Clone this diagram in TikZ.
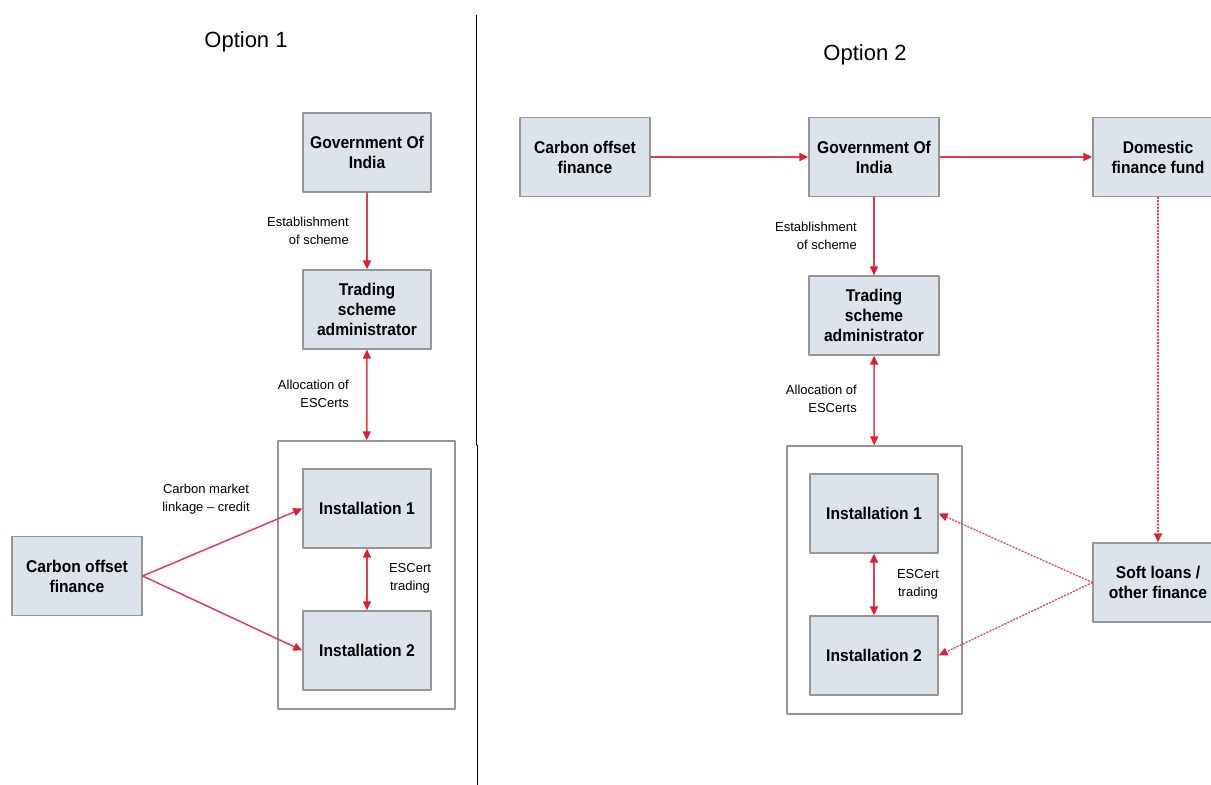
\documentclass[tikz,border=0pt]{standalone}
\usepackage{fontspec}
\setmainfont{Liberation Sans}
\newfontfamily\boxfont[FakeStretch=0.92]{Liberation Sans}
\usetikzlibrary{arrows.meta}
\definecolor{boxfill}{RGB}{220,227,235}
\definecolor{boxline}{RGB}{150,150,150}
\definecolor{linkred}{RGB}{228,60,82}
\definecolor{tipred}{RGB}{220,30,55}
\begin{document}
\begin{tikzpicture}[x=1pt, y=-1pt, line cap=round, line join=round,
		box/.style={draw=boxline, fill=boxfill, line width=1.3pt, minimum width=128pt, minimum height=79pt,
			inner sep=0pt, align=center, font=\boxfont\bfseries\fontsize{17}{20}\selectfont},
		frame/.style={draw=boxline, fill=white, line width=1.3pt, minimum width=177pt, minimum height=268pt, inner sep=0pt},
		lbl/.style={font=\fontsize{13}{18}\selectfont, inner sep=0pt},
		link/.style={draw=linkred, line width=1.5pt, -{Triangle[length=9pt,width=8pt,color=tipred]}},
		both/.style={link, {Triangle[length=9pt,width=8pt,color=tipred]}-{Triangle[length=9pt,width=8pt,color=tipred]}},
		loose/.style={link, line width=1.3pt, dotted}]
	
	\useasboundingbox (0,0) rectangle (1211,785);
	
	% Divider between the two options
	\draw[line width=1pt] (476,15) -- (476,445);
	\draw[line width=1pt] (477,445) -- (477,785);
	
	% Titles
	\node[font=\fontsize{22}{26}\selectfont] (title1) at (246,42) {Option 1};
	\node[font=\fontsize{22}{26}\selectfont] (title2) at (865,55) {Option 2};
	
	% Option 1 boxes
	\node[frame] (group1) at (366.5,575) {};
	\node[box] (gov1) at (367,152.5) {Government Of\\India};
	\node[box] (admin1) at (367,309.5) {Trading\\scheme\\administrator};
	\node[box] (instA1) at (367,508.5) {Installation 1};
	\node[box] (instB1) at (367,650.5) {Installation 2};
	\node[box, minimum width=130pt] (offset1) at (77,576) {Carbon offset\\finance};
	
	% Option 1 links
	\draw[link] (gov1) -- (admin1);
	\draw[both] (admin1) -- (group1);
	\draw[both] (instA1) -- (instB1);
	\draw[link] (offset1.east) -- (instA1.west);
	\draw[link] (offset1.east) -- (instB1.west);
	
	% Option 1 labels
	\node[lbl, anchor=east, align=right] (est1) at (349,231) {Establishment\\of scheme};
	\node[lbl, anchor=east, align=right] (alloc1) at (349,394) {Allocation of\\ESCerts};
	\node[lbl, align=center] (market1) at (206,499) {Carbon market\\linkage -- credit};
	\node[lbl, align=center] (trade1) at (410,578) {ESCert\\trading};
	
	% Option 2 boxes
	\node[frame, minimum width=175pt] (group2) at (874.5,580) {};
	\node[box, minimum width=130pt] (offset2) at (585,157) {Carbon offset\\finance};
	\node[box, minimum width=130pt] (gov2) at (874,157) {Government Of\\India};
	\node[box, minimum width=130pt] (fund2) at (1158,157) {Domestic\\finance fund};
	\node[box, minimum width=130pt] (admin2) at (874,315.5) {Trading\\scheme\\administrator};
	\node[box] (instA2) at (874,513.5) {Installation 1};
	\node[box] (instB2) at (874,655.5) {Installation 2};
	\node[box, minimum width=130pt] (soft2) at (1158,582.5) {Soft loans /\\other finance};
	
	% Option 2 links
	\draw[link] (offset2) -- (gov2);
	\draw[link] (gov2) -- (fund2);
	\draw[link] (gov2) -- (admin2);
	\draw[both] (admin2) -- (group2);
	\draw[both] (instA2) -- (instB2);
	\draw[loose] (fund2) -- (soft2);
	\draw[loose] (soft2.west) -- (instA2.east);
	\draw[loose] (soft2.west) -- (instB2.east);
	
	% Option 2 labels
	\node[lbl, anchor=east, align=right] (est2) at (857,236) {Establishment\\of scheme};
	\node[lbl, anchor=east, align=right] (alloc2) at (857,399) {Allocation of\\ESCerts};
	\node[lbl, align=center] (trade2) at (918,584) {ESCert\\trading};
	
\end{tikzpicture}
\end{document}
